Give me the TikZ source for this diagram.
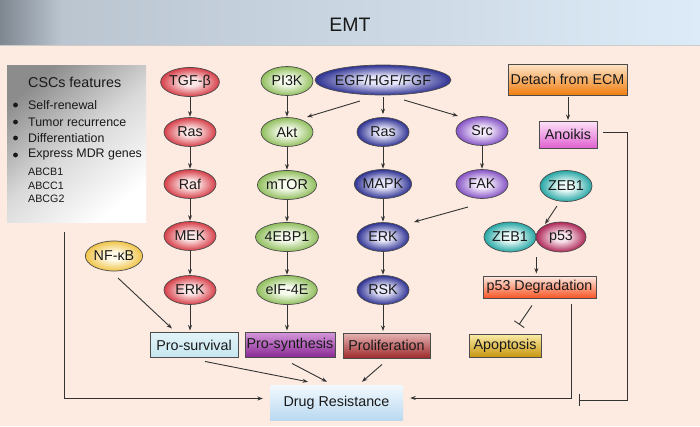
\documentclass[tikz,border=0pt]{standalone}
\usepackage{fontspec}
\setmainfont{Liberation Sans}
\usetikzlibrary{shapes.geometric,arrows.meta,calc}
\definecolor{bgpeach}{HTML}{FDEBE1}
\definecolor{hdrA}{HTML}{7E8690}
\definecolor{hdrB}{HTML}{BAC5D0}
\definecolor{hdrC}{HTML}{DDEBF8}
\definecolor{redI}{HTML}{FCE6E6}
\definecolor{redO}{HTML}{D63E48}
\definecolor{grnI}{HTML}{F6FBEE}
\definecolor{grnO}{HTML}{90BE5C}
\definecolor{bluI}{HTML}{E6E6FA}
\definecolor{bluO}{HTML}{2E3192}
\definecolor{purI}{HTML}{F4EAFC}
\definecolor{purO}{HTML}{8452C4}
\definecolor{tealI}{HTML}{ECFBF9}
\definecolor{tealO}{HTML}{24A6A4}
\definecolor{p53I}{HTML}{F8E4EC}
\definecolor{p53O}{HTML}{AE2656}
\definecolor{nfI}{HTML}{FFFAE8}
\definecolor{nfO}{HTML}{F0C448}
\definecolor{survT}{HTML}{E2F4F8}
\definecolor{survB}{HTML}{C6E6EF}
\definecolor{synT}{HTML}{D496DA}
\definecolor{synB}{HTML}{882894}
\definecolor{prolT}{HTML}{E6B4B4}
\definecolor{prolB}{HTML}{9E2A2C}
\definecolor{apoT}{HTML}{FAECA8}
\definecolor{apoB}{HTML}{C8960E}
\definecolor{degT}{HTML}{FDECE4}
\definecolor{degB}{HTML}{F85424}
\definecolor{detT}{HTML}{FDE4C8}
\definecolor{detB}{HTML}{F07E10}
\definecolor{anoT}{HTML}{FDE4F8}
\definecolor{anoB}{HTML}{E060D0}
\definecolor{drugT}{HTML}{F2F9FE}
\definecolor{drugB}{HTML}{B9D9F1}
\colorlet{ellin}{white}
\colorlet{ellout}{gray}
\pgfdeclareradialshading[ellin,ellout]{myball}{\pgfpoint{0bp}{0bp}}{color(0bp)=(ellin); color(7bp)=(ellin); color(25bp)=(ellout); color(50bp)=(ellout)}
\begin{document}
\begin{tikzpicture}[x=1pt,y=-1pt,
  txt/.style={font=\fontsize{14.3}{16}\selectfont, text=black!90},
  ell/.style 2 args={ellipse, draw=black!70, line width=0.7pt,
    /utils/exec={\colorlet{ellin}{#1}\colorlet{ellout}{#2}}, shading=myball,
    minimum width=52pt, minimum height=29pt, inner sep=0pt, txt},
  box/.style 2 args={rectangle, draw=black!70, line width=0.9pt, top color=#1, bottom color=#2,
    minimum height=25pt, inner sep=1pt, txt},
  arr/.style={-{Stealth[length=5.5pt,width=4pt]}, line width=0.9pt, draw=black!80},
  inh/.style={-{Bar[width=12pt,line width=0.9pt]}, line width=0.9pt, draw=black!80},
  item/.style={anchor=west, font=\fontsize{12.4}{14}\selectfont, text=black!90, inner sep=0pt},
  gene/.style={anchor=west, font=\fontsize{10.7}{12}\selectfont, text=black!90, inner sep=0pt}
]
\useasboundingbox (0,0) rectangle (700,426);
\fill[bgpeach] (0,0) rectangle (700,426);
\shade[left color=hdrA, right color=hdrB] (0,0) rectangle (62,45);
\shade[left color=hdrB, right color=hdrC] (62,0) rectangle (700,45);
\draw[black!20, line width=0.6pt] (0,45) -- (700,45);
\node[font=\fontsize{19.5}{22}\selectfont, text=black!90] (emt) at (350,25) {EMT};

% CSCs box
\node[rectangle, minimum width=139pt, minimum height=157pt, inner sep=0pt,
  top color=black!45, bottom color=white, middle color=black!15, shading angle=40] (cscs) at (76.5,143.5) {};
\node[anchor=west, txt, inner sep=0pt] (csct) at (28,82) {CSCs features};
\node[item] (i1) at (28,105) {Self-renewal};
\node[item] (i2) at (28,122) {Tumor recurrence};
\node[item] (i3) at (28,138) {Differentiation};
\node[item] (i4) at (28,155) {Express MDR genes};
\foreach \yy in {105,122,138,155} \fill[black!90] (15.5,\yy) circle (2.4);
\node[gene] (g1) at (28,172) {ABCB1};
\node[gene] (g2) at (28,185.5) {ABCC1};
\node[gene] (g3) at (28,199) {ABCG2};

% red column
\node[ell={redI}{redO}] (tgf) at (190,82) {TGF-β};
\node[ell={redI}{redO}] (ras1) at (190,132) {Ras};
\node[ell={redI}{redO}] (raf) at (190,184) {Raf};
\node[ell={redI}{redO}] (mek) at (190,236) {MEK};
\node[ell={redI}{redO}] (erk1) at (190,290) {ERK};
% green column
\node[ell={grnI}{grnO}] (pi3k) at (287,81) {PI3K};
\node[ell={grnI}{grnO}] (akt) at (287,132) {Akt};
\node[ell={grnI}{grnO}] (mtor) at (287,185) {mTOR};
\node[ell={grnI}{grnO}] (ebp) at (287,237) {4EBP1};
\node[ell={grnI}{grnO}] (eif) at (287,290) {eIF-4E};
% blue column
\node[ell={bluI}{bluO}, minimum width=109pt, minimum height=30pt] (egf) at (383,80) {EGF/HGF/FGF};
\node[ell={bluI}{bluO}] (ras2) at (383,132) {Ras};
\node[ell={bluI}{bluO}] (mapk) at (383,184) {MAPK};
\node[ell={bluI}{bluO}] (erk2) at (383,237) {ERK};
\node[ell={bluI}{bluO}] (rsk) at (383,290) {RSK};
% purple
\node[ell={purI}{purO}] (src) at (482,131) {Src};
\node[ell={purI}{purO}] (fak) at (482,184) {FAK};
% others
\node[ell={nfI}{nfO}, minimum width=54pt, minimum height=30pt] (nfkb) at (114,256) {NF-κB};
\node[ell={tealI}{tealO}, minimum height=31pt] (zeb1a) at (566,186) {ZEB1};
\node[ell={tealI}{tealO}, minimum height=30pt] (zeb1b) at (510,237) {ZEB1};
\node[ell={p53I}{p53O}, minimum width=50pt, minimum height=30pt] (p53) at (561,237) {p53};

% boxes
\node[box={survT}{survB}, minimum width=88pt] (prosurv) at (194,345) {Pro-survival};
\node[box={synT}{synB}, minimum width=90pt] (prosyn) at (290,345) {Pro-synthesis};
\node[box={prolT}{prolB}, minimum width=87pt] (prolif) at (386.5,345.5) {Proliferation};
\node[box={apoT}{apoB}, minimum width=72pt, minimum height=23pt] (apop) at (505,345.5) {Apoptosis};
\node[box={degT}{degB}, minimum width=113pt, minimum height=22pt] (p53deg) at (539.5,287) {p53 Degradation};
\node[box={detT}{detB}, minimum width=119pt, minimum height=31pt] (detach) at (567.5,79.5) {Detach from ECM};
\node[box={anoT}{anoB}, minimum width=58pt, minimum height=27pt] (anoikis) at (568,134.5) {Anoikis};
\node[rectangle, top color=drugT, bottom color=drugB, minimum width=133pt, minimum height=35pt, txt] (drug) at (336.5,402.5) {Drug Resistance};

% vertical chains
\foreach \a/\b in {tgf/ras1,ras1/raf,raf/mek,mek/erk1,pi3k/akt,akt/mtor,mtor/ebp,ebp/eif,ras2/mapk,mapk/erk2,erk2/rsk,src/fak}
  \draw[arr, shorten >=0.5pt] (\a) -- (\b);
\draw[arr, shorten >=1.5pt] (erk1) -- (erk1 |- prosurv.north);
\draw[arr, shorten >=1.5pt] (eif) -- (eif |- prosyn.north);
\draw[arr, shorten >=1.5pt] (rsk) -- (rsk |- prolif.north);
\draw[arr, shorten <=2pt, shorten >=0.5pt] (detach.south -| anoikis) -- (anoikis);

% EGF branches
\draw[arr] ($(egf)+(-23,21)$) -- ($(akt)+(20,-15)$);
\draw[arr, shorten <=2pt, shorten >=3pt] (egf) -- (ras2);
\draw[arr] ($(egf)+(21,20)$) -- ($(src)+(-24,-15)$);
% FAK -> ERK
\draw[arr] ($(fak)+(-14,23)$) -- ($(erk2)+(31,-15)$);
% NF-kB -> Pro-survival
\draw[arr] ($(nfkb)+(4,22)$) -- ($(prosurv.north)+(-22,-3.5)$);
% ZEB1 -> complex
\draw[arr] ($(zeb1a)+(-9,20)$) -- ($(p53)+(-16,-13)$);
% complex -> p53 degradation
\draw[arr, shorten >=2pt] ($(zeb1b.east |- p53.south)+(0,5)$) -- (zeb1b.east |- p53deg.north);
% p53 degradation -| apoptosis
\draw[inh] ($(p53deg.south)+(-7.5,7)$) -- ($(apop.north)+(14,-9)$);

% to drug resistance
\draw[arr] ($(prosurv.south)+(11,3.5)$) -- ($(drug.north)+(-28.5,-3)$);
\draw[arr] ($(prosyn.south)+(2,5.5)$) -- ($(drug.north)+(-9.5,-3)$);
\draw[arr] ($(prolif.south)+(-4.5,6)$) -- ($(drug.north)+(25.5,-3)$);
\draw[arr] ($(cscs.south)+(-12.5,10)$) |- ($(drug.west)+(-7,-4)$);
\draw[arr] ($(p53deg.south)+(31.5,6)$) |- ($(drug.east)+(7,-4.5)$);
% anoikis inhibition
\coordinate (inhend) at (579,400);
\draw[inh] ($(anoikis.east)+(6,-2.5)$) -| (627,400) -- (inhend);
\end{tikzpicture}
\end{document}
